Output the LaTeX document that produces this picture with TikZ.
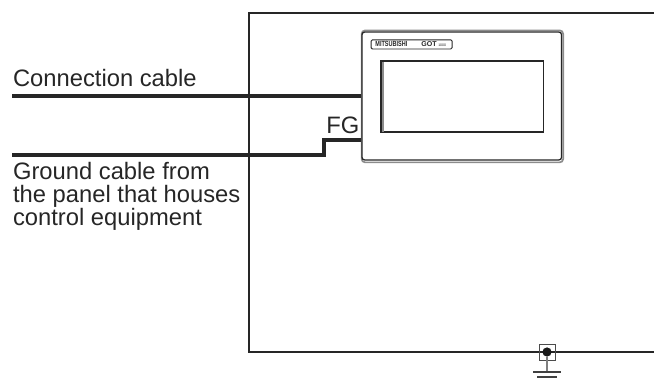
\documentclass[tikz,border=0pt]{standalone}
\usepackage{fontspec}
\setmainfont{Liberation Sans}
\tikzset{
  cable/.style={line width=2.4pt, draw=black!85},
  frameline/.style={line width=1.3pt, draw=black!85},
  gotrim/.style={line width=0.9pt, draw=black!85, rounded corners=2pt},
  gotshade/.style={line width=1.2pt, draw=black!45, rounded corners=2.5pt},
  caption/.style={inner sep=0pt, text=black!85, font=\fontsize{16.9}{16.4}\selectfont},
  badge/.style={inner sep=0pt, text=black!85}
}
\begin{document}
\begin{tikzpicture}
\useasboundingbox (0,0) rectangle (16.35,9.5);
% panel
\draw[frameline] (16.35,9.175) -- (6.225,9.175) -- (6.225,0.7) -- (16.35,0.7);
% GOT unit
\draw[gotshade] (9.04,5.44) rectangle (14.08,8.74);
\node[gotrim, draw, fill=white, minimum width=4.99cm, minimum height=3.2cm, inner sep=0pt] (got) at (11.544,7.1) {};
\node[draw, line width=0.7pt, draw=black!85, rounded corners=1pt, minimum width=2.03cm, minimum height=0.23cm, inner sep=0pt] (badgebox) at (10.29,8.39) {};
\node[badge, anchor=base west, font=\bfseries\fontsize{5.3}{6}\selectfont] (maker) at (9.38,8.33) {\scalebox{.74}[1]{MITSUBISHI}};
\node[badge, anchor=base west, font=\bfseries\fontsize{5}{6}\selectfont] (model) at (10.53,8.33) {GOT};
\node[badge, anchor=base west, font=\fontsize{2.5}{3}\selectfont] (series) at (10.95,8.33) {1000};
\node[draw, line width=0.9pt, draw=black!85, minimum width=4.06cm, minimum height=1.775cm, inner sep=0pt] (screen) at (11.556,7.09) {};
\draw[line width=1.6pt, draw=black!45] (9.58,6.21) -- (9.58,7.96);
% cables
\coordinate (cablestart) at (0.3,7.1);
\coordinate (groundstart) at (0.3,5.625);
\coordinate (groundup) at (8.1,5.625);
\coordinate (groundtop) at (8.1,6);
\draw[cable] (cablestart) -- (cablestart -| got.west);
\draw[cable, line cap=butt] (groundstart) -- (groundup) -- (groundtop) -- (groundtop -| got.west);
% texts
\node[caption, anchor=base west] (cabletext) at (0.32,7.33) {Connection cable};
\node[caption, anchor=north west, align=left] (groundtext) at (0.32,5.45) {Ground cable from\\the panel that houses\\control equipment};
\node[caption, anchor=base west] (fgtext) at (8.15,6.15) {FG};
% earth terminal
\node[draw, line width=0.7pt, draw=black!70, minimum size=0.4cm, inner sep=0pt] (terminal) at (13.675,0.7) {};
\node[circle, fill=black!90, minimum size=0.23cm, inner sep=0pt] (terminaldot) at (13.675,0.7) {};
\coordinate (earthone) at (13.675,0.2);
\draw[line width=1.1pt, draw=black!50] (terminaldot) -- (earthone);
\draw[line width=0.8pt, draw=black!75] (13.33,0.2) -- (14.03,0.2);
\draw[line width=0.8pt, draw=black!75] (13.43,0.075) -- (13.93,0.075);
\end{tikzpicture}
\end{document}
